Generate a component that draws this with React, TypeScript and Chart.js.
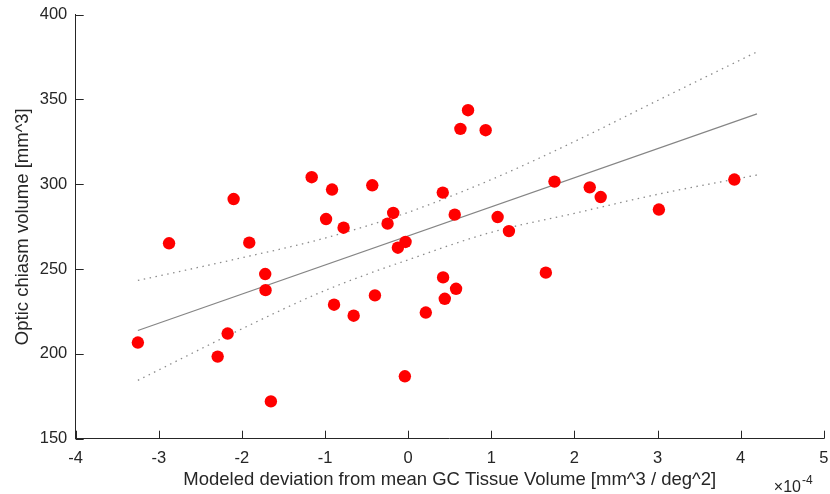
import React, { useEffect, useRef } from "react";
import { Chart, registerables } from "chart.js";

Chart.register(...registerables);

// x values are in units of 1e-4 mm^3/deg^2 (axis shows ×10^-4)
const deviationX = [
  -3.252, -2.877, -2.1, -1.912, -2.172, -2.292, -1.72, -1.716, -1.652, -1.161,
  -0.916, -0.988, -0.777, -0.892, -0.656, -0.432, -0.248, -0.18, -0.124, -0.032,
  -0.4, -0.04, 0.212, 0.416, 0.42, 0.44, 0.576, 0.56, 0.628, 0.72,
  0.932, 1.076, 1.212, 1.656, 1.76, 2.184, 2.316, 3.016, 3.924,
];
const chiasmVolume = [
  206.7, 265.2, 291.3, 265.6, 212.0, 198.4, 247.1, 237.6, 172.0, 304.2,
  296.9, 279.5, 274.4, 229.0, 222.5, 299.4, 276.8, 283.1, 262.6, 266.0,
  234.5, 186.8, 224.4, 295.1, 245.1, 232.5, 238.4, 282.1, 332.7, 343.7,
  331.9, 280.7, 272.4, 247.9, 301.6, 298.2, 292.5, 285.1, 302.8,
];

const fitX = [-3.252, 4.196];
const fitY = [213.8, 341.5];

const bandX = [-3.252, -2, -1, 0, 1, 2, 3, 4.196];
const bandUpper = [243.3, 256.7, 268.3, 283.5, 302.8, 325.2, 349.4, 378.1];
const bandLower = [184.4, 214.8, 237.4, 255.5, 271.7, 282.9, 294.1, 305.5];

const xTickValues = [-4, -3, -2, -1, 0, 1, 2, 3, 4, 5];
const yTickValues = [150, 200, 250, 300, 350, 400];

const xTitle = "Modeled deviation from mean GC Tissue Volume [mm^3 / deg^2]";
const yTitle = "Optic chiasm volume [mm^3]";

const TEXT = "#262626";
const FONT = "'Liberation Sans', Arial, Helvetica, sans-serif";
const TICK_SIZE = 16.5;
const TITLE_SIZE = 18.5;

const toPts = (xs: number[], ys: number[]) => xs.map((x, i) => ({ x, y: ys[i] }));

const inwardTicks = {
  id: "inwardTicks",
  afterDatasetsDraw(chart: any) {
    const { ctx, scales } = chart;
    const xs = scales.x;
    const ys = scales.y;
    const len = 8;
    ctx.save();
    ctx.strokeStyle = TEXT;
    ctx.lineWidth = 1;
    ctx.beginPath();
    for (const v of xTickValues) {
      const px = Math.round(xs.getPixelForValue(v)) + 0.5;
      ctx.moveTo(px, ys.bottom);
      ctx.lineTo(px, ys.bottom - len);
    }
    for (const v of yTickValues) {
      const py = Math.round(ys.getPixelForValue(v)) + 0.5;
      ctx.moveTo(xs.left, py);
      ctx.lineTo(xs.left + len, py);
    }
    ctx.stroke();
    // exponent label
    ctx.fillStyle = TEXT;
    ctx.textBaseline = "alphabetic";
    ctx.textAlign = "left";
    ctx.font = `16px ${FONT}`;
    const bx = xs.right - 50;
    const by = 492;
    ctx.fillText("\u00d710", bx, by);
    const w = ctx.measureText("\u00d710").width;
    ctx.font = `12px ${FONT}`;
    ctx.fillText("-4", bx + w + 1, by - 8);
    ctx.restore();
  },
};

export default function App() {
  const ref = useRef<HTMLCanvasElement | null>(null);
  useEffect(() => {
    if (!ref.current) return;
    const chart = new Chart(ref.current, {
      type: "scatter",
      data: {
        datasets: [
          {
            data: toPts(deviationX, chiasmVolume),
            backgroundColor: "#ff0000",
            borderColor: "#ff0000",
            pointRadius: 6.2,
            pointBorderWidth: 0,
            showLine: false,
          } as any,
          {
            data: toPts(fitX, fitY),
            borderColor: "#858585",
            borderWidth: 1.2,
            pointRadius: 0,
            showLine: true,
            fill: false,
          },
          {
            data: toPts(bandX, bandUpper),
            borderColor: "#8c8c8c",
            borderWidth: 1.3,
            borderDash: [1.5, 4.5],
            pointRadius: 0,
            showLine: true,
            cubicInterpolationMode: "monotone",
            fill: false,
          },
          {
            data: toPts(bandX, bandLower),
            borderColor: "#8c8c8c",
            borderWidth: 1.3,
            borderDash: [1.5, 4.5],
            pointRadius: 0,
            showLine: true,
            cubicInterpolationMode: "monotone",
            fill: false,
          },
        ],
      },
      options: {
        animation: false,
        responsive: false,
        devicePixelRatio: 1,
        layout: { padding: { top: 14.7, right: 4.6, left: 0, bottom: 0 } },
        plugins: {
          legend: { display: false },
          tooltip: { enabled: false },
        },
        scales: {
          x: {
            type: "linear",
            min: -4,
            max: 5,
            afterBuildTicks: (s: any) => {
              s.ticks = xTickValues.map((v) => ({ value: v }));
            },
            afterFit: (s: any) => {
              s.height = 55.3;
              s.paddingLeft = 0;
              s.paddingRight = 0;
            },
            grid: { display: false, drawTicks: false },
            border: { display: true, color: TEXT, width: 1 },
            ticks: {
              color: TEXT,
              font: { family: FONT, size: TICK_SIZE },
              padding: 10,
              maxRotation: 0,
              autoSkip: false,
              callback: (v: any) => String(v),
            },
            title: {
              display: true,
              text: xTitle,
              color: TEXT,
              font: { family: FONT, size: TITLE_SIZE, lineHeight: 1.2 },
              padding: { top: 0, bottom: 3 },
            },
          },
          y: {
            type: "linear",
            min: 150,
            max: 400,
            afterBuildTicks: (s: any) => {
              s.ticks = yTickValues.map((v) => ({ value: v }));
            },
            afterFit: (s: any) => {
              s.width = 75.7;
              s.paddingTop = 0;
              s.paddingBottom = 0;
            },
            grid: { display: false, drawTicks: false },
            border: { display: true, color: TEXT, width: 1 },
            ticks: {
              color: TEXT,
              font: { family: FONT, size: TICK_SIZE },
              padding: 8.4,
              autoSkip: false,
              callback: (v: any) => String(v),
            },
            title: {
              display: true,
              text: yTitle,
              color: TEXT,
              font: { family: FONT, size: TITLE_SIZE, lineHeight: 1.2 },
              padding: { top: 12, bottom: 0 },
            },
          },
        },
      },
      plugins: [inwardTicks],
    } as any);
    return () => chart.destroy();
  }, []);
  return (
    <div style={{ position: "absolute", left: 0, top: 0, width: 830, height: 494, background: "#fff" }}>
      <canvas ref={ref} width={830} height={494} style={{ display: "block" }} />
    </div>
  );
}
